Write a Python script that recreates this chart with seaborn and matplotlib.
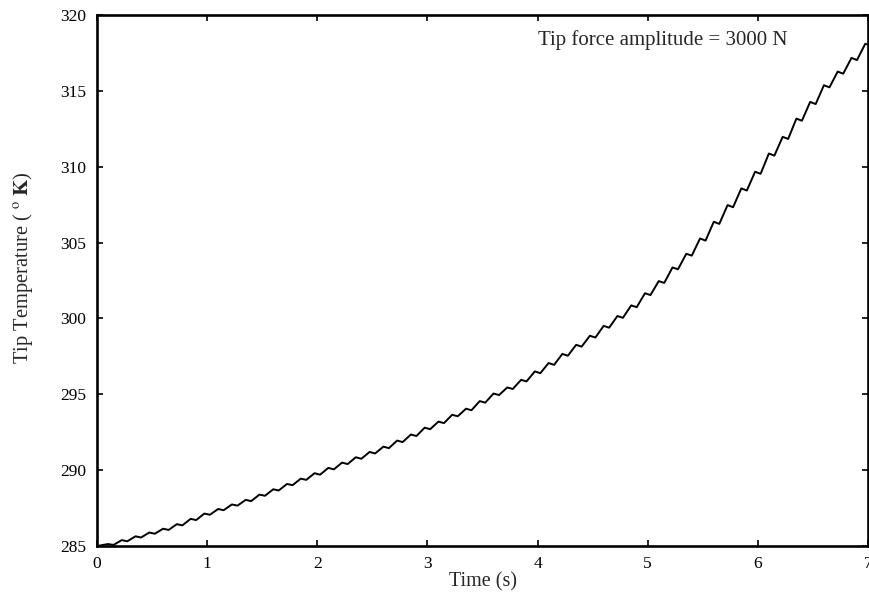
import matplotlib
matplotlib.use("Agg")
import matplotlib.pyplot as plt
import seaborn as sns
import pandas as pd

# Curve: alternating local peak / local dip of each oscillation
time_s = [
    0.0,
    0.100, 0.150, 0.225, 0.275, 0.350, 0.400, 0.475, 0.525, 0.600, 0.650,
    0.725, 0.775, 0.850, 0.900, 0.975, 1.025, 1.100, 1.150, 1.225, 1.275,
    1.350, 1.400, 1.475, 1.525, 1.600, 1.650, 1.725, 1.775, 1.850, 1.900,
    1.975, 2.025, 2.100, 2.150, 2.225, 2.275, 2.350, 2.400, 2.475, 2.525,
    2.600, 2.650, 2.725, 2.775, 2.850, 2.900, 2.975, 3.025, 3.100, 3.150,
    3.225, 3.275, 3.350, 3.400, 3.475, 3.525, 3.600, 3.650, 3.725, 3.775,
    3.850, 3.900, 3.975, 4.025, 4.100, 4.150, 4.225, 4.275, 4.350, 4.400,
    4.475, 4.525, 4.600, 4.650, 4.725, 4.775, 4.850, 4.900, 4.975, 5.025,
    5.100, 5.150, 5.225, 5.275, 5.350, 5.400, 5.475, 5.525, 5.600, 5.650,
    5.725, 5.775, 5.850, 5.900, 5.975, 6.025, 6.100, 6.150, 6.225, 6.275,
    6.350, 6.400, 6.475, 6.525, 6.600, 6.650, 6.725, 6.775, 6.850, 6.900,
    6.975, 7.000,
]
tip_temp_K = [
    285.00,
    285.13, 285.07, 285.39, 285.31, 285.64, 285.56, 285.89, 285.81, 286.14, 286.06,
    286.44, 286.36, 286.79, 286.71, 287.14, 287.06, 287.44, 287.36, 287.74, 287.66,
    288.04, 287.96, 288.39, 288.31, 288.74, 288.66, 289.09, 289.01, 289.44, 289.36,
    289.80, 289.70, 290.15, 290.05, 290.50, 290.40, 290.85, 290.75, 291.20, 291.10,
    291.55, 291.45, 291.95, 291.85, 292.35, 292.25, 292.80, 292.70, 293.20, 293.10,
    293.65, 293.55, 294.05, 293.95, 294.55, 294.45, 295.05, 294.95, 295.45, 295.35,
    295.95, 295.85, 296.51, 296.39, 297.06, 296.94, 297.66, 297.54, 298.26, 298.14,
    298.86, 298.74, 299.51, 299.39, 300.16, 300.04, 300.86, 300.74, 301.66, 301.54,
    302.46, 302.34, 303.36, 303.24, 304.26, 304.14, 305.27, 305.13, 306.37, 306.23,
    307.47, 307.33, 308.57, 308.43, 309.67, 309.53, 310.87, 310.73, 311.97, 311.83,
    313.17, 313.03, 314.27, 314.13, 315.37, 315.23, 316.27, 316.13, 317.17, 317.03,
    318.10, 318.05,
]

x_ticks = [0, 1, 2, 3, 4, 5, 6, 7]
y_ticks = [285, 290, 295, 300, 305, 310, 315, 320]
annotation = "Tip force amplitude = 3000 N"

sns.set_style("ticks")
plt.rcParams["font.family"] = ["Liberation Serif", "DejaVu Serif"]
plt.rcParams["mathtext.fontset"] = "stix"

fig = plt.figure(figsize=(8.7, 5.97), dpi=100)
ax = fig.add_axes([0.1115, 0.0854, 0.8862, 0.8895])

df = pd.DataFrame({"Time (s)": time_s, "T": tip_temp_K})
sns.lineplot(data=df, x="Time (s)", y="T", ax=ax, color="black",
             linewidth=1.4, estimator=None, sort=False)

ax.set_xlim(0, 7)
ax.set_ylim(285, 320)
ax.set_xticks(x_ticks)
ax.set_yticks(y_ticks)
ax.set_xticklabels([str(v) for v in x_ticks])
ax.set_yticklabels([str(v) for v in y_ticks])
ax.tick_params(direction="in", length=4, width=1.2, top=True, right=True,
               labelsize=12.5, colors="black")
ax.tick_params(axis="y", pad=8)
ax.tick_params(axis="x", pad=7)
for sp in ax.spines.values():
    sp.set_visible(True)
    sp.set_linewidth(1.9)
    sp.set_color("black")

ax.set_xlabel("Time (s)", fontsize=14.5, labelpad=0)
ax.set_ylabel(r"Tip Temperature ( $^{\rm o}$ $\mathbf{K}$)", fontsize=14.8)
ax.yaxis.set_label_coords(-0.080, 0.524)
ax.text(4.0, 318.35, annotation, fontsize=15, ha="left", va="center")

fig.savefig("out.png", dpi=100)
